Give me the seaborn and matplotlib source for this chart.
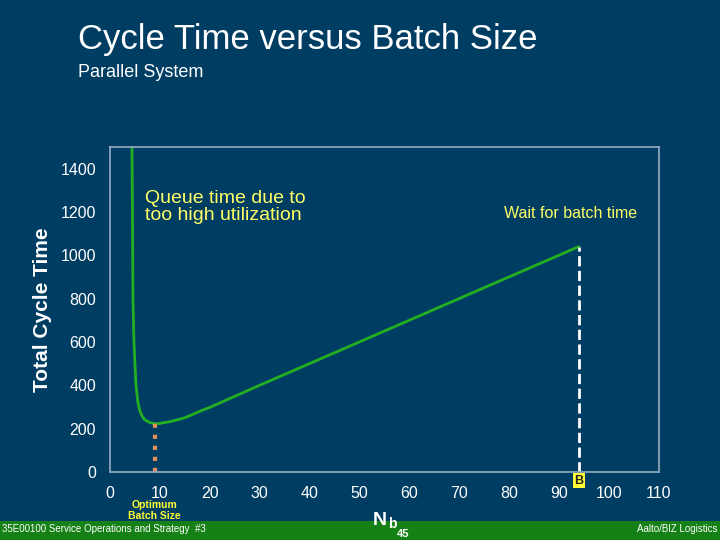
import seaborn as sns
import matplotlib.pyplot as plt
import pandas as pd

# curve
batch_size = [4.4, 4.5, 4.6, 4.8, 5.2, 5.6, 6, 6.5, 7, 8, 9, 10, 12, 15, 18, 20,
              30, 40, 50, 60, 70, 80, 90, 94]
cycle_time = [1500, 1200, 800, 600, 400, 320, 280, 255, 240, 228, 222, 224, 232, 250, 280, 298,
              400, 500, 600, 700, 800, 900, 1000, 1040]
optimum_x, optimum_y = 9, 240
b_x, b_y = 94, 1040

bg = "#003D63"
sns.set_theme(style="white")
plt.rcParams['font.family'] = ['Liberation Sans', 'DejaVu Sans']

fig = plt.figure(figsize=(7.2, 5.4), dpi=100, facecolor=bg)
ax = fig.add_axes([0.1528, 0.126, 0.762, 0.602])
ax.set_facecolor(bg)

df = pd.DataFrame({"Nb": batch_size, "CT": cycle_time})
sns.lineplot(data=df, x="Nb", y="CT", ax=ax, color="#22B022", linewidth=2)
ax.plot([b_x, b_x], [0, b_y], color="white", linestyle="--", linewidth=2)
ax.plot([optimum_x, optimum_x], [0, optimum_y], color="#E8905A", linestyle=":", linewidth=3)

ax.set_xlim(0, 110)
ax.set_ylim(0, 1500)
ax.set_xticks(range(0, 111, 10))
ax.set_yticks(range(0, 1401, 200))
ax.tick_params(axis="x", colors="white", labelsize=11.5, length=0, pad=10)
ax.tick_params(axis="y", colors="white", labelsize=11.5, length=0, pad=10)
for s in ax.spines.values():
    s.set_color("#8FA8BF")
ax.set_xlabel("")
ax.set_ylabel("Total Cycle Time", color="white", fontsize=15, fontweight="bold", labelpad=6)

ax.text(7, 1145, "Queue time due to\ntoo high utilization", color="#FFFF66", fontsize=14,
        linespacing=0.95, va="bottom")
ax.text(79, 1170, "Wait for batch time", color="#FFFF66", fontsize=11.5)
ax.text(94, -40, "B", color="#222222", fontsize=9, fontweight="bold", ha="center", va="center",
        bbox=dict(facecolor="#FFFF33", edgecolor="none", pad=1))

fig.text(0.108, 0.91, "Cycle Time versus Batch Size", color="white", fontsize=25)
fig.text(0.108, 0.858, "Parallel System", color="white", fontsize=13)
fig.text(0.215, 0.038, "Optimum\nBatch Size", color="#FFFF33", fontsize=7.5, fontweight="bold",
         ha="center", linespacing=1.2)

fig.patches.append(plt.Rectangle((0, 0), 1, 0.035, transform=fig.transFigure,
                                 facecolor="#158015", edgecolor="none"))
fig.text(0.003, 0.014, "35E00100 Service Operations and Strategy  #3", color="white", fontsize=7)
fig.text(0.997, 0.014, "Aalto/BIZ Logistics", color="white", fontsize=7, ha="right")
fig.text(0.518, 0.028, "N", color="white", fontsize=14, fontweight="bold")
fig.text(0.539, 0.022, "b", color="white", fontsize=10, fontweight="bold")
fig.text(0.551, 0.006, "45", color="white", fontsize=8, fontweight="bold")

fig.savefig("out.png", dpi=100, facecolor=bg)
